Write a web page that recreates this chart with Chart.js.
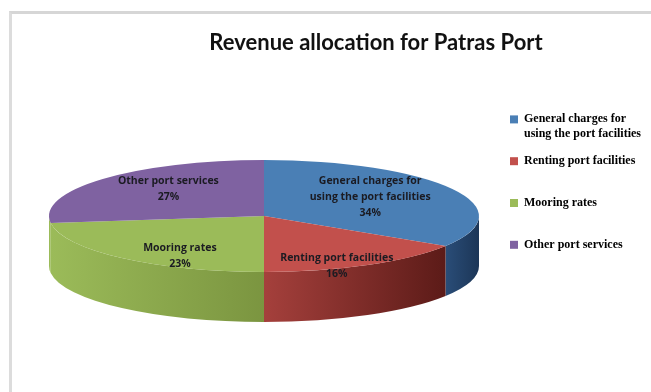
<!DOCTYPE html>
<html>
<head>
<meta charset="utf-8">
<title>Revenue allocation for Patras Port</title>
<script src="https://cdn.jsdelivr.net/npm/chart.js@4"></script>
<style>
    html, body { margin: 0; padding: 0; background: #fff; }
    #wrap { position: relative; width: 651px; height: 392px; overflow: hidden; }
    #frame { position: absolute; left: 9px; top: 11px; width: 660px; height: 400px; border-left: 3px solid #dcdcdc; border-top: 3px solid #d6d6d6; filter: blur(0.6px); }
    canvas { position: absolute; left: 0; top: 0; filter: blur(0.7px); }
</style>
</head>
<body>
<div id="wrap">
    <div id="frame"></div>
    <canvas id="chart" width="651" height="392"></canvas>
</div>
<script>
const chartTitle = 'Revenue allocation for Patras Port';
const categories = ['General charges for using the port facilities', 'Renting port facilities', 'Mooring rates', 'Other port services'];
const values = [34, 16, 23, 27];

// labels wrapped the way the picture wraps them
const legendLines = [['General charges for', 'using the port facilities'], ['Renting port facilities', ''], ['Mooring rates', ''], ['Other port services', '']];
const sliceLines = [['General charges for', 'using the port facilities'], ['Renting port facilities'], ['Mooring rates'], ['Other port services']];

const topColors = ['#4a7fb5', '#c2504c', '#9bbb59', '#7f62a1'];
// the sliver of purple rim on the far left reads as green in the picture
const sideColors = [['#2a4d78', '#1c3657'], ['#a5403c', '#5c1b18'], ['#9bbb59', '#7b9540'], ['#9bbb59', '#9bbb59']];

// tilted pie: where the flat chart.js pie gets squashed to
const pie3d = { cx: 264, cy: 216, rx: 215, ry: 56, depth: 50 };
// small pixel nudges of the slice labels from the slice centers
const labelNudge = [[12, -5], [21, 25], [-13, 19], [-15, -8]];

const tiltedPie = {
    id: 'tiltedPie',
    beforeDatasetsDraw(chart) {
        const ctx = chart.ctx;
        const { cx, cy, rx, ry, depth } = pie3d;
        ctx.save();
        chart.getDatasetMeta(0).data.forEach((arc, i) => {
            // only the front half of the rim can be seen
            const from = Math.max(arc.startAngle, 0);
            const to = Math.min(arc.endAngle, Math.PI);
            if (to <= from) return;
            const x1 = cx + rx * Math.cos(to), x2 = cx + rx * Math.cos(from);
            const grad = ctx.createLinearGradient(x1, 0, x2, 0);
            grad.addColorStop(0, sideColors[i][0]);
            grad.addColorStop(1, sideColors[i][1]);
            ctx.fillStyle = grad;
            ctx.beginPath();
            ctx.ellipse(cx, cy, rx, ry, 0, from, to);
            ctx.ellipse(cx, cy + depth, rx, ry, 0, to, from, true);
            ctx.closePath();
            ctx.fill();
        });
        ctx.restore();

        const arc0 = chart.getDatasetMeta(0).data[0];
        ctx.save();
        ctx.translate(cx, cy);
        ctx.scale(rx / arc0.outerRadius, ry / arc0.outerRadius);
        ctx.translate(-arc0.x, -arc0.y);
    },
    afterDatasetsDraw(chart) {
        const ctx = chart.ctx;
        ctx.restore();

        const { cx, cy, rx, ry } = pie3d;
        ctx.save();
        ctx.font = 'bold 10.5px "Open Sans"';
        ctx.textAlign = 'center';
        ctx.textBaseline = 'middle';
        ctx.fillStyle = '#1b1b22';
        chart.getDatasetMeta(0).data.forEach((arc, i) => {
            const c = arc.getCenterPoint();
            const x = cx + (c.x - arc.x) * rx / arc.outerRadius + labelNudge[i][0];
            const y = cy + (c.y - arc.y) * ry / arc.outerRadius + labelNudge[i][1];
            const lines = sliceLines[i].concat(values[i] + '%');
            lines.forEach((line, n) => {
                ctx.fillText(line, x, y + (n - (lines.length - 1) / 2) * 16);
            });
        });
        ctx.restore();
    }
};

new Chart(document.getElementById('chart'), {
    type: 'pie',
    data: {
        labels: categories,
        datasets: [{
            data: values,
            backgroundColor: topColors,
            borderWidth: 0
        }]
    },
    options: {
        responsive: false,
        animation: false,
        layout: { padding: { left: 101, top: 30, right: 0, bottom: 41 } },
        plugins: {
            title: {
                display: true,
                text: chartTitle,
                color: '#111',
                font: { family: 'Lato', size: 22, weight: 'bold' },
                padding: { top: 0, bottom: 19 }
            },
            legend: {
                position: 'right',
                labels: {
                    color: '#484848',
                    font: { family: 'Liberation Serif', size: 12, weight: 'bold', lineHeight: 1.2 },
                    boxWidth: 8,
                    boxHeight: 8,
                    padding: 13,
                    generateLabels: () => categories.map((name, i) => ({
                        text: legendLines[i],
                        fillStyle: topColors[i],
                        strokeStyle: topColors[i],
                        lineWidth: 0,
                        index: i
                    }))
                }
            },
            tooltip: { enabled: false }
        }
    },
    plugins: [tiltedPie]
});
</script>
</body>
</html>
